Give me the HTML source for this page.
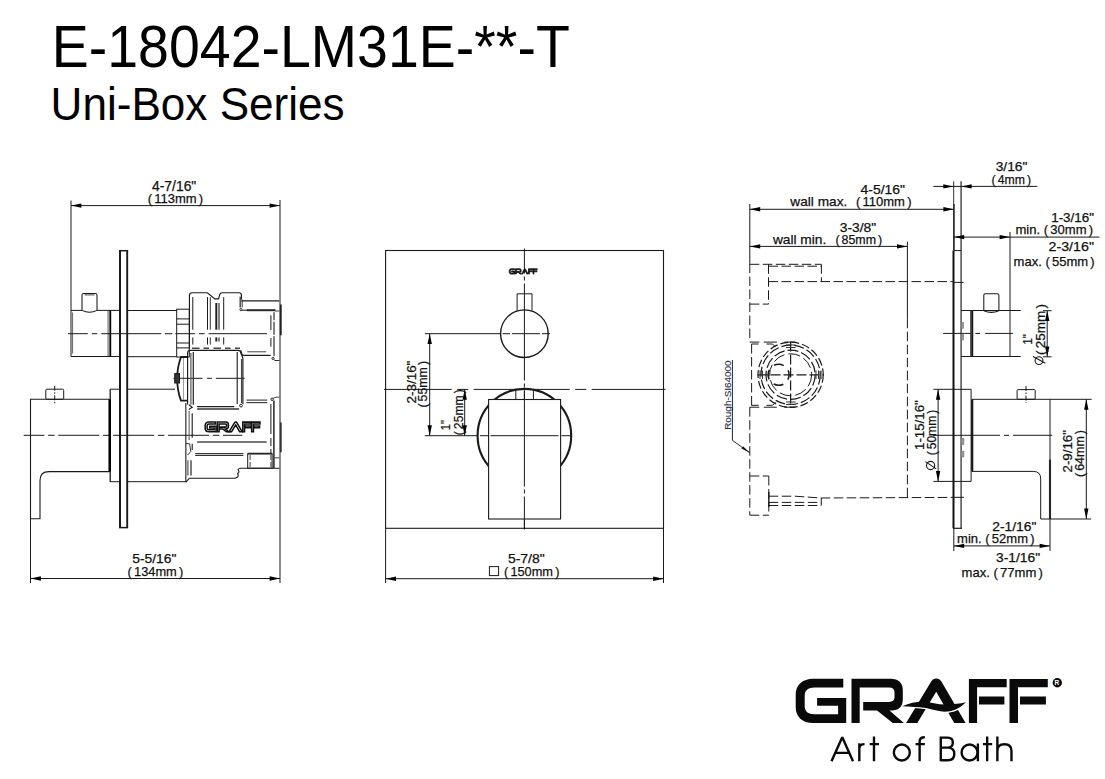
<!DOCTYPE html>
<html><head><meta charset="utf-8"><title>E-18042-LM31E-**-T</title>
<style>
html,body{margin:0;padding:0;background:#fff;}
body{width:1105px;height:779px;overflow:hidden;position:relative;}
svg{position:absolute;left:0;top:0;display:block;}
svg text{font-family:"Liberation Sans",sans-serif;}
</style></head><body>
<svg width="1105" height="779" viewBox="0 0 1105 779">

<rect x="0" y="0" width="1105" height="779" fill="#fff"/>
<text x="51.8" y="67.2" font-size="58.6" fill="#000" textLength="518" lengthAdjust="spacingAndGlyphs">E-18042-LM31E-**-T</text>
<text x="50.6" y="119.7" font-size="46.6" fill="#000" textLength="294" lengthAdjust="spacingAndGlyphs">Uni-Box Series</text>
<line x1="71" y1="200.5" x2="71" y2="356.7" stroke="#1a1a1a" stroke-width="1"/>
<line x1="280" y1="200" x2="280" y2="583" stroke="#1a1a1a" stroke-width="1"/>
<line x1="71" y1="205.6" x2="280" y2="205.6" stroke="#1a1a1a" stroke-width="1"/>
<polygon points="71,205.6 81.40,203.40 81.40,207.80" fill="#000"/>
<polygon points="280,205.6 269.60,203.40 269.60,207.80" fill="#000"/>
<text x="152" y="190.8" font-size="14.2" fill="#111" stroke="#111" stroke-width="0.25" textLength="44.3" lengthAdjust="spacingAndGlyphs">4-7/16&quot;</text>
<text x="147.7" y="202.9" font-size="13.2" fill="#111" stroke="#111" stroke-width="0.25" textLength="55.5" lengthAdjust="spacingAndGlyphs">(&#8202;&#8202;113mm&#8202;&#8202;)</text>
<line x1="30.5" y1="399.3" x2="30.5" y2="583" stroke="#1a1a1a" stroke-width="1"/>
<line x1="30.5" y1="578.5" x2="280" y2="578.5" stroke="#1a1a1a" stroke-width="1"/>
<polygon points="30.5,578.5 40.90,576.30 40.90,580.70" fill="#000"/>
<polygon points="280,578.5 269.60,576.30 269.60,580.70" fill="#000"/>
<text x="132.2" y="563.4" font-size="13.2" fill="#111" stroke="#111" stroke-width="0.25" textLength="44.2" lengthAdjust="spacingAndGlyphs">5-5/16&quot;</text>
<text x="127.6" y="575.7" font-size="13.6" fill="#111" stroke="#111" stroke-width="0.25" textLength="55.6" lengthAdjust="spacingAndGlyphs">(&#8202;&#8202;134mm&#8202;&#8202;)</text>
<line x1="120" y1="250.6" x2="120" y2="527.8" stroke="#1a1a1a" stroke-width="2"/>
<line x1="127.2" y1="250.6" x2="127.2" y2="527.8" stroke="#1a1a1a" stroke-width="1.9"/>
<line x1="119" y1="250.7" x2="128.1" y2="250.7" stroke="#1a1a1a" stroke-width="1.5"/>
<line x1="119" y1="527.6" x2="128.1" y2="527.6" stroke="#1a1a1a" stroke-width="1.5"/>
<line x1="71" y1="310.4" x2="82" y2="310.4" stroke="#1a1a1a" stroke-width="1"/>
<line x1="97" y1="310.4" x2="120" y2="310.4" stroke="#1a1a1a" stroke-width="1"/>
<line x1="71" y1="356.5" x2="120" y2="356.5" stroke="#1a1a1a" stroke-width="1"/>
<line x1="72.6" y1="312.5" x2="72.6" y2="353.5" stroke="#555" stroke-width="0.9"/>
<line x1="108.1" y1="310.5" x2="108.1" y2="356.5" stroke="#444" stroke-width="0.9"/>
<line x1="110.3" y1="310.5" x2="110.3" y2="356.5" stroke="#000" stroke-width="1.8"/>
<path d="M82,310.4 L82,295 Q82,293.5 83.5,293.5 L95.5,293.5 Q97,293.5 97,295 L97,310.4 Q89.5,314 82,310.4" stroke="#1a1a1a" stroke-width="1.05" fill="none"/>
<line x1="84.5" y1="294.9" x2="94.5" y2="294.9" stroke="#444" stroke-width="1"/>
<line x1="68" y1="333.7" x2="267" y2="333.7" stroke="#1a1a1a" stroke-width="1" stroke-dasharray="19.8 4 5.5 4 60 3.7 7.3 3"/>
<line x1="127.5" y1="310.5" x2="176.7" y2="310.5" stroke="#1a1a1a" stroke-width="1"/>
<line x1="127.5" y1="356.7" x2="176.7" y2="356.7" stroke="#1a1a1a" stroke-width="1"/>
<rect x="176.7" y="309.2" width="12.6" height="47.8" rx="0" stroke="#1a1a1a" stroke-width="1" fill="none"/>
<line x1="176.7" y1="318.9" x2="189.3" y2="318.9" stroke="#1a1a1a" stroke-width="1"/>
<line x1="176.7" y1="324.2" x2="189.3" y2="324.2" stroke="#1a1a1a" stroke-width="1"/>
<line x1="176.7" y1="343" x2="189.3" y2="343" stroke="#1a1a1a" stroke-width="1"/>
<line x1="176.7" y1="347.9" x2="189.3" y2="347.9" stroke="#1a1a1a" stroke-width="1"/>
<path d="M109.5,399.3 L30.5,399.3 L30.5,518.7 L40,518.7 L40,480.5 Q40,471.6 49,471.6 L109.5,471.6" stroke="#1a1a1a" stroke-width="1.1" fill="none"/>
<line x1="110.2" y1="389.2" x2="110.2" y2="481.7" stroke="#1a1a1a" stroke-width="1.3"/>
<line x1="109.7" y1="399.3" x2="109.7" y2="471.7" stroke="#000" stroke-width="2.5"/>
<line x1="110" y1="389.2" x2="120" y2="389.2" stroke="#1a1a1a" stroke-width="1"/>
<line x1="110" y1="481.7" x2="120" y2="481.7" stroke="#1a1a1a" stroke-width="1"/>
<line x1="127.5" y1="389.2" x2="175" y2="389.2" stroke="#1a1a1a" stroke-width="1"/>
<line x1="127.5" y1="481.7" x2="185.8" y2="481.7" stroke="#1a1a1a" stroke-width="1"/>
<rect x="45.8" y="389.2" width="17.9" height="10.1" rx="1" stroke="#1a1a1a" stroke-width="1" fill="none"/>
<line x1="54.7" y1="385.8" x2="54.7" y2="403.3" stroke="#1a1a1a" stroke-width="1" stroke-dasharray="5 1.5 1.5 1.5"/>
<line x1="23.7" y1="435.3" x2="242.3" y2="435.3" stroke="#1a1a1a" stroke-width="1" stroke-dasharray="41 3.7 6.5 3.7" stroke-dashoffset="20.3"/>
<path d="M187.6,357 L181,357 Q177,368 177.3,378.5 Q177,390 181,400.6 L187.6,400.6" stroke="#1a1a1a" stroke-width="1.8" fill="none"/>
<line x1="183.5" y1="358" x2="183.5" y2="400" stroke="#888" stroke-width="0.8"/>
<line x1="173.5" y1="378.3" x2="244.7" y2="378.3" stroke="#1a1a1a" stroke-width="1" stroke-dasharray="29 4.6 4.8 4 30 4"/>
<rect x="174.7" y="373.6" width="4.8" height="9.4" rx="0" stroke="#1a1a1a" stroke-width="1" fill="#333"/>
<path d="M189.45,349 L189.45,295.4 Q189.45,292.7 192.1,292.7 L207.4,292.7 L214.8,298.9 L218.6,298.9 L219.5,295.3 Q220,292.7 222.4,292.7 L239,292.7 Q241.4,292.7 241.4,295 L241.4,299.4" stroke="#1a1a1a" stroke-width="1.15" fill="none"/>
<line x1="240.2" y1="296.8" x2="240.2" y2="307.6" stroke="#333" stroke-width="1.3"/>
<line x1="242.2" y1="299.5" x2="242.2" y2="307.6" stroke="#555" stroke-width="1.2"/>
<circle cx="240.9" cy="309.6" r="1.1" stroke="#222" stroke-width="1" fill="none"/>
<line x1="241.4" y1="300.9" x2="279.3" y2="300.9" stroke="#1a1a1a" stroke-width="1.1"/>
<line x1="242" y1="310.2" x2="247" y2="310.2" stroke="#1a1a1a" stroke-width="1"/>
<line x1="246.8" y1="310.2" x2="275.5" y2="310.2" stroke="#262626" stroke-width="2"/>
<line x1="192.8" y1="297.1" x2="192.8" y2="329.7" stroke="#1a1a1a" stroke-width="1"/>
<line x1="192.8" y1="337.4" x2="192.8" y2="344.6" stroke="#1a1a1a" stroke-width="1"/>
<line x1="207.5" y1="297.1" x2="207.5" y2="329.7" stroke="#1a1a1a" stroke-width="1"/>
<line x1="207.5" y1="337.4" x2="207.5" y2="344.6" stroke="#1a1a1a" stroke-width="1"/>
<line x1="210.3" y1="297.1" x2="210.3" y2="329.7" stroke="#333" stroke-width="1"/>
<line x1="210.3" y1="337.4" x2="210.3" y2="344.6" stroke="#333" stroke-width="1"/>
<line x1="223.7" y1="297.1" x2="223.7" y2="329.7" stroke="#1a1a1a" stroke-width="1"/>
<line x1="223.7" y1="337.4" x2="223.7" y2="344.6" stroke="#1a1a1a" stroke-width="1"/>
<line x1="216.3" y1="303" x2="216.3" y2="329.7" stroke="#222" stroke-width="2"/>
<line x1="219" y1="303" x2="219" y2="329.7" stroke="#333" stroke-width="1.2"/>
<line x1="216.3" y1="337.4" x2="216.3" y2="341.5" stroke="#222" stroke-width="2"/>
<line x1="219" y1="337.4" x2="219" y2="341.5" stroke="#333" stroke-width="1.2"/>
<line x1="192" y1="348.2" x2="240" y2="348.2" stroke="#444" stroke-width="1.6" stroke-dasharray="7.5 4 5.5 4.5"/>
<line x1="270.9" y1="315.3" x2="270.9" y2="330.2" stroke="#1a1a1a" stroke-width="1"/>
<line x1="270.9" y1="338" x2="270.9" y2="346.6" stroke="#1a1a1a" stroke-width="1"/>
<line x1="274" y1="312.2" x2="274" y2="355.9" stroke="#1a1a1a" stroke-width="1.1" stroke-dasharray="8 1.5 13 1.5 30 1.5"/>
<line x1="275" y1="311" x2="279.5" y2="311" stroke="#444" stroke-width="1"/>
<line x1="280.8" y1="304.5" x2="280.8" y2="335.3" stroke="#222" stroke-width="1.8"/>
<circle cx="273" cy="358.4" r="1.1" stroke="#222" stroke-width="1" fill="none"/>
<path d="M240.6,350.2 L242.5,355.4 L270.6,355.4" stroke="#1a1a1a" stroke-width="1.1" fill="none"/>
<path d="M273.8,359.5 L275,360.5 L279.5,360.5" stroke="#333" stroke-width="1" fill="none"/>
<line x1="247.3" y1="351.8" x2="266.3" y2="351.8" stroke="#444" stroke-width="1"/>
<path d="M187.6,404.6 L187.6,353.2 Q187.6,350.4 190.4,350.4 L238,350.4 Q240.8,350.4 240.8,353.2 L242.9,358 L242.9,404" stroke="#1a1a1a" stroke-width="1.15" fill="none"/>
<line x1="193.3" y1="352" x2="193.3" y2="404.8" stroke="#333" stroke-width="1.3"/>
<line x1="190.9" y1="353" x2="190.9" y2="404.8" stroke="#555" stroke-width="1.2"/>
<line x1="237.2" y1="352" x2="237.2" y2="404" stroke="#1a1a1a" stroke-width="1.1"/>
<line x1="241.6" y1="359" x2="241.6" y2="403" stroke="#444" stroke-width="1.3"/>
<line x1="197.1" y1="406.6" x2="234.3" y2="406.6" stroke="#222" stroke-width="1.1"/>
<line x1="197.1" y1="409" x2="239.1" y2="409" stroke="#333" stroke-width="1.4"/>
<circle cx="241" cy="405.6" r="1.4" stroke="#222" stroke-width="1" fill="none"/>
<path d="M188.8,404.8 L192.2,407.2 L188.8,409.6" stroke="#222" stroke-width="1.2" fill="none"/>
<line x1="246.5" y1="400.1" x2="267.2" y2="400.1" stroke="#333" stroke-width="1.1"/>
<line x1="246.5" y1="402.6" x2="267.2" y2="402.6" stroke="#333" stroke-width="1.1"/>
<line x1="185.85" y1="403" x2="185.85" y2="482.2" stroke="#1a1a1a" stroke-width="1.1"/>
<path d="M185.85,482.2 L189.4,478.2 L234.9,478.2 Q239.6,477.2 237.6,473.4 Q240.2,472.6 238,469.6 Q238.6,468.2 241,468.2 L279.4,468.2" stroke="#1a1a1a" stroke-width="1.1" fill="none"/>
<rect x="247.7" y="453.7" width="24.4" height="14.5" rx="0" stroke="#1a1a1a" stroke-width="1" fill="none"/>
<line x1="247.7" y1="453.6" x2="272.1" y2="453.6" stroke="#222" stroke-width="1.7"/>
<line x1="250.1" y1="455" x2="250.1" y2="467.5" stroke="#444" stroke-width="1" stroke-dasharray="5 2"/>
<line x1="270.9" y1="455" x2="270.9" y2="467.5" stroke="#444" stroke-width="1" stroke-dasharray="5 2"/>
<line x1="270.9" y1="404" x2="270.9" y2="453" stroke="#1a1a1a" stroke-width="1" stroke-dasharray="30 4 8 3"/>
<line x1="273.9" y1="400.5" x2="273.9" y2="468.2" stroke="#222" stroke-width="1.5"/>
<circle cx="272.1" cy="399.3" r="1.2" stroke="#222" stroke-width="1" fill="none"/>
<path d="M273,398.4 L276,397.2 L279.4,397.2" stroke="#444" stroke-width="1" fill="none"/>
<line x1="273.9" y1="457.8" x2="279.4" y2="457.8" stroke="#444" stroke-width="1"/>
<line x1="280.8" y1="422.4" x2="280.8" y2="452.3" stroke="#333" stroke-width="1.8"/>
<line x1="192.2" y1="413.3" x2="192.2" y2="437.7" stroke="#1a1a1a" stroke-width="1.1"/>
<line x1="192.2" y1="443.8" x2="192.2" y2="449.9" stroke="#1a1a1a" stroke-width="1.1"/>
<line x1="189.1" y1="411" x2="189.1" y2="440" stroke="#555" stroke-width="1"/>
<line x1="197.1" y1="442" x2="266.6" y2="442" stroke="#4a4a4a" stroke-width="1.5"/>
<line x1="195.2" y1="453.5" x2="243.4" y2="453.5" stroke="#333" stroke-width="1.1"/>
<line x1="195.2" y1="455.4" x2="243.4" y2="455.4" stroke="#333" stroke-width="1.3"/>
<line x1="187.9" y1="460.2" x2="187.9" y2="475.5" stroke="#555" stroke-width="1.2"/>
<line x1="191" y1="460.2" x2="191" y2="475.5" stroke="#333" stroke-width="1.3"/>
<path d="M186,443.5 L189.6,443.8 L190.8,451.5 L187.6,455" stroke="#333" stroke-width="1" fill="none"/>
<g id="glogoL" transform="translate(205.2,422.2) scale(0.2175,0.218)" fill="none" stroke="#111" stroke-width="7"><path d="M47.3,-0.5 L17.5,-0.5 C6,-0.5 -0.3,6 -0.3,15.5 L-0.3,27.7 C-0.3,37.5 6,43.7 17.5,43.7 L50.2,43.7 L50.2,18.8 L21.1,18.8 L21.1,26.5 L42.1,26.5 L42.1,35 L18.5,35 C12,35 8.7,32 8.7,27 L8.7,16.5 C8.7,11 12,8.1 18.5,8.1 L47.3,8.1 Z"/>
<path d="M55.5,-0.5 L55.5,43.7 L63.7,43.7 L63.7,8.1 L93,8.1 Q98.5,8.1 98.5,13 L98.5,18 Q98.5,22.6 93,22.6 L67.2,22.6 L67.2,31.3 L81,31.3 L96.8,43.7 L107.9,43.7 L93.5,31.3 L95.5,31.3 Q106.8,30.8 106.8,20 L106.8,11.5 Q106.8,-0.5 94.5,-0.5 Z"/>
<path d="M110.1,43.7 L135.2,2.2 Q137,-0.9 140.3,-0.9 Q143.6,-0.9 145.4,2.2 L169.6,43.7 L158.2,43.7 L140.2,12.4 L121.3,43.7 Z"/>
<path d="M172.9,-0.4 L210.7,-0.4 L210.7,8 L181.1,8 L181.1,43.7 L172.9,43.7 Z M183,17.2 L208.4,17.2 L208.4,25.2 L183,25.2 Z"/>
<path d="M213.5,-0.4 L251.8,-0.4 L251.8,8 L222,8 L222,43.7 L213.5,43.7 Z M224,17.2 L249.9,17.2 L249.9,25.2 L224,25.2 Z"/>
</g>
<rect x="385.6" y="250.5" width="277.9" height="277.8" rx="0" stroke="#1a1a1a" stroke-width="1.1" fill="none"/>
<line x1="524.4" y1="248.5" x2="524.4" y2="529.3" stroke="#1a1a1a" stroke-width="1" stroke-dasharray="25 3 4 3 97 3 4 3 96 3 4 3 40 3"/>
<line x1="384" y1="389.4" x2="665.5" y2="389.4" stroke="#1a1a1a" stroke-width="1" stroke-dasharray="67.7 5.5 11 5.5 96 5.5 11 5.5 96 5.5"/>
<g transform="translate(509.3,268.8) scale(0.111,0.12)" fill="#111" stroke="#111" stroke-width="7"><path d="M47.3,-0.5 L17.5,-0.5 C6,-0.5 -0.3,6 -0.3,15.5 L-0.3,27.7 C-0.3,37.5 6,43.7 17.5,43.7 L50.2,43.7 L50.2,18.8 L21.1,18.8 L21.1,26.5 L42.1,26.5 L42.1,35 L18.5,35 C12,35 8.7,32 8.7,27 L8.7,16.5 C8.7,11 12,8.1 18.5,8.1 L47.3,8.1 Z"/>
<path d="M55.5,-0.5 L55.5,43.7 L63.7,43.7 L63.7,8.1 L93,8.1 Q98.5,8.1 98.5,13 L98.5,18 Q98.5,22.6 93,22.6 L67.2,22.6 L67.2,31.3 L81,31.3 L96.8,43.7 L107.9,43.7 L93.5,31.3 L95.5,31.3 Q106.8,30.8 106.8,20 L106.8,11.5 Q106.8,-0.5 94.5,-0.5 Z"/>
<path d="M110.1,43.7 L135.2,2.2 Q137,-0.9 140.3,-0.9 Q143.6,-0.9 145.4,2.2 L169.6,43.7 L158.2,43.7 L140.2,12.4 L121.3,43.7 Z"/>
<path d="M172.9,-0.4 L210.7,-0.4 L210.7,8 L181.1,8 L181.1,43.7 L172.9,43.7 Z M183,17.2 L208.4,17.2 L208.4,25.2 L183,25.2 Z"/>
<path d="M213.5,-0.4 L251.8,-0.4 L251.8,8 L222,8 L222,43.7 L213.5,43.7 Z M224,17.2 L249.9,17.2 L249.9,25.2 L224,25.2 Z"/>
</g>
<path d="M517.1,310.5 L517.1,293.8 L532,293.8 L532,310.5" stroke="#1a1a1a" stroke-width="1" fill="none"/>
<circle cx="524.4" cy="333.7" r="23.8" stroke="#1a1a1a" stroke-width="1.4" fill="none"/>
<line x1="424.8" y1="333.7" x2="500.6" y2="333.7" stroke="#1a1a1a" stroke-width="1"/>
<line x1="502.5" y1="333.7" x2="550" y2="333.7" stroke="#1a1a1a" stroke-width="1" stroke-dasharray="7.5 2 28 2 8 2"/>
<circle cx="524.4" cy="435.7" r="46.8" stroke="#1a1a1a" stroke-width="2.1" fill="none"/>
<rect x="488.6" y="399.5" width="72.0" height="119.5" rx="0" stroke="#1a1a1a" stroke-width="1.1" fill="#fff"/>
<line x1="515.8" y1="389.6" x2="515.8" y2="399.5" stroke="#1a1a1a" stroke-width="1"/>
<line x1="533.4" y1="389.6" x2="533.4" y2="399.5" stroke="#1a1a1a" stroke-width="1"/>
<line x1="524.4" y1="390.5" x2="524.4" y2="529.3" stroke="#1a1a1a" stroke-width="1" stroke-dasharray="96 3 4 3 40 3"/>
<line x1="424.8" y1="435.7" x2="477.6" y2="435.7" stroke="#1a1a1a" stroke-width="1"/>
<line x1="480" y1="435.7" x2="572" y2="435.7" stroke="#1a1a1a" stroke-width="1" stroke-dasharray="8.5 2 68 3 10.5 3"/>
<line x1="429.7" y1="333.7" x2="429.7" y2="435.7" stroke="#1a1a1a" stroke-width="1"/>
<polygon points="429.7,333.7 427.50,344.10 431.90,344.10" fill="#000"/>
<polygon points="429.7,435.7 427.50,425.30 431.90,425.30" fill="#000"/>
<line x1="464.7" y1="389.4" x2="464.7" y2="435.7" stroke="#1a1a1a" stroke-width="1"/>
<polygon points="464.7,389.4 462.50,399.80 466.90,399.80" fill="#000"/>
<polygon points="464.7,435.7 462.50,425.30 466.90,425.30" fill="#000"/>
<text transform="translate(416.2,403.5) rotate(-90)" font-size="13" fill="#111" stroke="#111" stroke-width="0.25" textLength="42.9" lengthAdjust="spacingAndGlyphs">2-3/16&quot;</text>
<text transform="translate(427.2,407.6) rotate(-90)" font-size="13" fill="#111" stroke="#111" stroke-width="0.25" textLength="46.7" lengthAdjust="spacingAndGlyphs">(&#8202;&#8202;55mm&#8202;&#8202;)</text>
<text transform="translate(450,430.2) rotate(-90)" font-size="13" fill="#111" stroke="#111" stroke-width="0.25" textLength="10.0" lengthAdjust="spacingAndGlyphs">1&quot;</text>
<text transform="translate(462.6,435.2) rotate(-90)" font-size="13" fill="#111" stroke="#111" stroke-width="0.25" textLength="45.9" lengthAdjust="spacingAndGlyphs">(&#8202;&#8202;25mm&#8202;&#8202;)</text>
<line x1="385.6" y1="528" x2="385.6" y2="583" stroke="#1a1a1a" stroke-width="1"/>
<line x1="663.5" y1="528" x2="663.5" y2="583" stroke="#1a1a1a" stroke-width="1"/>
<line x1="385.6" y1="578.7" x2="663.5" y2="578.7" stroke="#1a1a1a" stroke-width="1"/>
<polygon points="385.6,578.7 396.00,576.50 396.00,580.90" fill="#000"/>
<polygon points="663.5,578.7 653.10,576.50 653.10,580.90" fill="#000"/>
<text x="507.9" y="563.2" font-size="13.1" fill="#111" stroke="#111" stroke-width="0.25" textLength="36.8" lengthAdjust="spacingAndGlyphs">5-7/8&quot;</text>
<text x="504" y="575.7" font-size="13.6" fill="#111" stroke="#111" stroke-width="0.25" textLength="55.4" lengthAdjust="spacingAndGlyphs">(&#8202;&#8202;150mm&#8202;&#8202;)</text>
<rect x="489.4" y="566.6" width="9.2" height="9.0" rx="0" stroke="#1a1a1a" stroke-width="1" fill="none"/>
<line x1="953.7" y1="181.3" x2="953.7" y2="204.2" stroke="#333" stroke-width="1"/>
<line x1="953.9" y1="204" x2="953.9" y2="250.6" stroke="#1a1a1a" stroke-width="1.6"/>
<line x1="953.5" y1="250.6" x2="953.5" y2="528.3" stroke="#111" stroke-width="2.0"/>
<line x1="961.1" y1="181.3" x2="961.1" y2="528.3" stroke="#3a3a3a" stroke-width="1.35"/>
<line x1="953" y1="528.3" x2="962" y2="528.3" stroke="#1a1a1a" stroke-width="1.2"/>
<line x1="953.8" y1="250.6" x2="961.2" y2="250.6" stroke="#1a1a1a" stroke-width="1"/>
<line x1="933.3" y1="186.4" x2="961.2" y2="186.4" stroke="#1a1a1a" stroke-width="1"/>
<polygon points="953.7,186.4 943.30,184.20 943.30,188.60" fill="#000"/>
<line x1="961.2" y1="186.4" x2="1037.4" y2="186.4" stroke="#1a1a1a" stroke-width="1"/>
<polygon points="961.2,186.4 971.60,184.20 971.60,188.60" fill="#000"/>
<text x="995.7" y="171.4" font-size="13" fill="#111" stroke="#111" stroke-width="0.25" textLength="31.7" lengthAdjust="spacingAndGlyphs">3/16&quot;</text>
<text x="991.5" y="183.8" font-size="13" fill="#111" stroke="#111" stroke-width="0.25" textLength="39.5" lengthAdjust="spacingAndGlyphs">(&#8202;&#8202;4mm&#8202;&#8202;)</text>
<line x1="749.8" y1="204" x2="749.8" y2="263.5" stroke="#1a1a1a" stroke-width="1"/>
<line x1="749.8" y1="263.5" x2="749.8" y2="341.6" stroke="#1a1a1a" stroke-width="1" stroke-dasharray="9.5 3.5"/>
<line x1="749.8" y1="209.3" x2="953.8" y2="209.3" stroke="#1a1a1a" stroke-width="1"/>
<polygon points="749.8,209.3 760.20,207.10 760.20,211.50" fill="#000"/>
<polygon points="953.8,209.3 943.40,207.10 943.40,211.50" fill="#000"/>
<text x="860.5" y="194" font-size="12.8" fill="#111" stroke="#111" stroke-width="0.25" textLength="44.5" lengthAdjust="spacingAndGlyphs">4-5/16&quot;</text>
<text x="790.3" y="206.2" font-size="12.9" fill="#111" stroke="#111" stroke-width="0.25" textLength="57.0" lengthAdjust="spacingAndGlyphs">wall max.</text>
<text x="856" y="206.2" font-size="12.8" fill="#111" stroke="#111" stroke-width="0.25" textLength="55.5" lengthAdjust="spacingAndGlyphs">(&#8202;&#8202;110mm&#8202;&#8202;)</text>
<line x1="749.8" y1="246.4" x2="907.4" y2="246.4" stroke="#1a1a1a" stroke-width="1"/>
<polygon points="749.8,246.4 760.20,244.20 760.20,248.60" fill="#000"/>
<polygon points="907.4,246.4 897.00,244.20 897.00,248.60" fill="#000"/>
<line x1="907.4" y1="241.6" x2="907.4" y2="318.7" stroke="#1a1a1a" stroke-width="1"/>
<line x1="907.4" y1="318.7" x2="907.4" y2="497.5" stroke="#1a1a1a" stroke-width="1" stroke-dasharray="9.5 3.5"/>
<text x="839.7" y="231.6" font-size="12.8" fill="#111" stroke="#111" stroke-width="0.25" textLength="36.5" lengthAdjust="spacingAndGlyphs">3-3/8&quot;</text>
<text x="772.9" y="243.5" font-size="12.9" fill="#111" stroke="#111" stroke-width="0.25" textLength="53.4" lengthAdjust="spacingAndGlyphs">wall min.</text>
<text x="835.4" y="243.5" font-size="12.8" fill="#111" stroke="#111" stroke-width="0.25" textLength="46.8" lengthAdjust="spacingAndGlyphs">(&#8202;&#8202;85mm&#8202;&#8202;)</text>
<line x1="953.8" y1="237.1" x2="1099.5" y2="237.1" stroke="#1a1a1a" stroke-width="1"/>
<polygon points="953.8,237.1 964.20,234.90 964.20,239.30" fill="#000"/>
<polygon points="1010,237.1 999.60,234.90 999.60,239.30" fill="#000"/>
<line x1="1010" y1="232" x2="1010" y2="356.8" stroke="#1a1a1a" stroke-width="1"/>
<text x="1051.2" y="221.8" font-size="13" fill="#111" stroke="#111" stroke-width="0.25" textLength="42.8" lengthAdjust="spacingAndGlyphs">1-3/16&quot;</text>
<text x="1015.5" y="234.1" font-size="13" fill="#111" stroke="#111" stroke-width="0.25" textLength="77.6" lengthAdjust="spacingAndGlyphs">min. (&#8202;&#8202;30mm&#8202;&#8202;)</text>
<text x="1048.5" y="251" font-size="13" fill="#111" stroke="#111" stroke-width="0.25" textLength="45.5" lengthAdjust="spacingAndGlyphs">2-3/16&quot;</text>
<text x="1013.6" y="265.8" font-size="13" fill="#111" stroke="#111" stroke-width="0.25" textLength="81.1" lengthAdjust="spacingAndGlyphs">max. (&#8202;&#8202;55mm&#8202;&#8202;)</text>
<line x1="749.8" y1="264.3" x2="821.4" y2="264.3" stroke="#1a1a1a" stroke-width="1" stroke-dasharray="9.5 3.5"/>
<line x1="768.5" y1="266.2" x2="821.4" y2="266.2" stroke="#1a1a1a" stroke-width="1" stroke-dasharray="9.5 3.5"/>
<line x1="821.4" y1="264.3" x2="821.4" y2="281.6" stroke="#1a1a1a" stroke-width="1" stroke-dasharray="9.5 3.5"/>
<line x1="768.5" y1="264.3" x2="768.5" y2="304.1" stroke="#1a1a1a" stroke-width="1" stroke-dasharray="9.5 3.5"/>
<line x1="749.8" y1="304.1" x2="768.5" y2="304.1" stroke="#1a1a1a" stroke-width="1" stroke-dasharray="9.5 3.5"/>
<line x1="768.5" y1="281.6" x2="953.8" y2="281.6" stroke="#1a1a1a" stroke-width="1" stroke-dasharray="9.5 3.5"/>
<line x1="953.8" y1="282.4" x2="963.5" y2="282.4" stroke="#1a1a1a" stroke-width="1"/>
<line x1="749.8" y1="342.1" x2="795.5" y2="342.1" stroke="#1a1a1a" stroke-width="1" stroke-dasharray="9.5 4.5 13 7.5 11 3"/>
<line x1="751.6" y1="344" x2="751.6" y2="405.5" stroke="#1a1a1a" stroke-width="1" stroke-dasharray="9.5 3.5"/>
<line x1="751.6" y1="344" x2="758.6" y2="344" stroke="#1a1a1a" stroke-width="1"/>
<line x1="766.5" y1="344" x2="772.5" y2="344" stroke="#1a1a1a" stroke-width="1"/>
<line x1="772.5" y1="344" x2="775.5" y2="347" stroke="#1a1a1a" stroke-width="1"/>
<line x1="751.6" y1="405.3" x2="758.6" y2="405.3" stroke="#1a1a1a" stroke-width="1"/>
<line x1="766.5" y1="405.3" x2="772.5" y2="405.3" stroke="#1a1a1a" stroke-width="1"/>
<line x1="772.5" y1="405.3" x2="775.5" y2="402.3" stroke="#1a1a1a" stroke-width="1"/>
<line x1="749.8" y1="407.2" x2="795.5" y2="407.2" stroke="#1a1a1a" stroke-width="1" stroke-dasharray="9.5 4.5 13 7.5 11 3"/>
<line x1="749.8" y1="407.2" x2="749.8" y2="515.2" stroke="#1a1a1a" stroke-width="1" stroke-dasharray="9.5 3.5"/>
<line x1="749.8" y1="476" x2="768.8" y2="476" stroke="#1a1a1a" stroke-width="1" stroke-dasharray="9.5 3.5"/>
<line x1="768.8" y1="476" x2="768.8" y2="515.2" stroke="#1a1a1a" stroke-width="1" stroke-dasharray="9.5 3.5"/>
<line x1="749.8" y1="515.2" x2="768.8" y2="515.2" stroke="#1a1a1a" stroke-width="1" stroke-dasharray="9.5 3.5"/>
<path d="M768.8,496.2 L795,496.2 L821,498 L953.8,497.4" stroke="#1a1a1a" stroke-width="1" fill="none" stroke-dasharray="9.5 3.5"/>
<line x1="768.8" y1="502.4" x2="821" y2="502.4" stroke="#1a1a1a" stroke-width="1" stroke-dasharray="9.5 3.5"/>
<line x1="768.8" y1="505.5" x2="821" y2="505.5" stroke="#1a1a1a" stroke-width="1" stroke-dasharray="9.5 3.5"/>
<line x1="821.3" y1="498" x2="821.3" y2="505.5" stroke="#1a1a1a" stroke-width="1"/>
<line x1="768.8" y1="492" x2="768.8" y2="507" stroke="#1a1a1a" stroke-width="1.4"/>
<line x1="953.8" y1="497.3" x2="964" y2="497.3" stroke="#1a1a1a" stroke-width="1"/>
<circle cx="790.6" cy="374.8" r="32.6" stroke="#1a1a1a" stroke-width="1.2" fill="none" stroke-dasharray="8 3"/>
<circle cx="790.6" cy="374.8" r="29.6" stroke="#1a1a1a" stroke-width="1.2" fill="none" stroke-dasharray="10 3"/>
<circle cx="790.6" cy="374.8" r="24.6" stroke="#1a1a1a" stroke-width="1.2" fill="none" stroke-dasharray="11 3"/>
<circle cx="790.6" cy="374.8" r="21" stroke="#1a1a1a" stroke-width="1" fill="none" stroke-dasharray="12 4"/>
<circle cx="778.6" cy="374.8" r="10.5" fill="none" stroke="#1a1a1a" stroke-width="1.6" stroke-dasharray="10 6.49" stroke-dashoffset="5"/>
<line x1="757.5" y1="374.8" x2="824" y2="374.8" stroke="#1a1a1a" stroke-width="1.2" stroke-dasharray="10 3"/>
<line x1="790.6" y1="341.5" x2="790.6" y2="408" stroke="#1a1a1a" stroke-width="1.2" stroke-dasharray="10 3"/>
<line x1="760" y1="370.5" x2="760" y2="379" stroke="#333" stroke-width="1"/>
<line x1="762.5" y1="370.5" x2="762.5" y2="379" stroke="#333" stroke-width="1"/>
<line x1="816" y1="370.5" x2="816" y2="379" stroke="#333" stroke-width="1"/>
<line x1="818.5" y1="370.5" x2="818.5" y2="379" stroke="#333" stroke-width="1"/>
<line x1="821" y1="370.5" x2="821" y2="379" stroke="#333" stroke-width="1"/>
<line x1="786" y1="345" x2="795.5" y2="345" stroke="#333" stroke-width="1"/>
<line x1="786" y1="347.5" x2="795.5" y2="347.5" stroke="#333" stroke-width="1"/>
<line x1="786" y1="402" x2="795.5" y2="402" stroke="#333" stroke-width="1"/>
<line x1="786" y1="404.5" x2="795.5" y2="404.5" stroke="#333" stroke-width="1"/>
<line x1="732.4" y1="360" x2="732.4" y2="440.3" stroke="#223" stroke-width="1"/>
<line x1="732.4" y1="440.3" x2="749.8" y2="452.8" stroke="#223" stroke-width="1"/>
<polygon points="749.8,452.8 743,446.2 741.5,448.6" fill="#111"/>
<text transform="translate(730.6,429.8) rotate(-90)" font-size="9.3" fill="#283050" stroke="#283050" stroke-width="0.12" textLength="69.4" lengthAdjust="spacingAndGlyphs">Rough-SI64000</text>
<line x1="961.2" y1="310.5" x2="1020.7" y2="310.5" stroke="#1a1a1a" stroke-width="1"/>
<line x1="961.2" y1="356.5" x2="1020.7" y2="356.5" stroke="#1a1a1a" stroke-width="1"/>
<line x1="970.5" y1="310.7" x2="970.5" y2="356.6" stroke="#444" stroke-width="0.9"/>
<line x1="972.2" y1="310.7" x2="972.2" y2="356.4" stroke="#1a1a1a" stroke-width="2.1"/>
<path d="M983.8,310.7 L983.8,295.3 Q983.8,293.8 985.3,293.8 L997.4,293.8 Q998.9,293.8 998.9,295.3 L998.9,310.7 Q991.3,314 983.8,310.7" stroke="#1a1a1a" stroke-width="1.05" fill="none"/>
<line x1="943.1" y1="333.4" x2="1012.9" y2="333.4" stroke="#1a1a1a" stroke-width="1" stroke-dasharray="27.4 4.9 4.7 5.1 27.7 3"/>
<rect x="961.2" y="322.3" width="2.4" height="6.0" rx="0" stroke="#777" stroke-width="0.6" fill="#999"/>
<rect x="961.2" y="334.1" width="2.4" height="5.9" rx="0" stroke="#777" stroke-width="0.6" fill="#999"/>
<line x1="1047.2" y1="310.7" x2="1047.2" y2="356.8" stroke="#1a1a1a" stroke-width="1"/>
<polygon points="1047.2,310.7 1045.00,321.10 1049.40,321.10" fill="#000"/>
<polygon points="1047.2,356.8 1045.00,346.40 1049.40,346.40" fill="#000"/>
<line x1="1043" y1="310.7" x2="1051.6" y2="310.7" stroke="#1a1a1a" stroke-width="1"/>
<line x1="1043" y1="356.8" x2="1051.6" y2="356.8" stroke="#1a1a1a" stroke-width="1"/>
<text transform="translate(1032.3,344.6) rotate(-90)" font-size="13.2" fill="#111" stroke="#111" stroke-width="0.25" textLength="10.2" lengthAdjust="spacingAndGlyphs">1&quot;</text>
<text transform="translate(1044.5,354.9) rotate(-90)" font-size="13.4" fill="#111" stroke="#111" stroke-width="0.25" textLength="50.8" lengthAdjust="spacingAndGlyphs">(&#8202;&#8202;25mm&#8202;&#8202;)</text>
<circle cx="1039" cy="360.6" r="3.9" stroke="#1a1a1a" stroke-width="1.1" fill="none"/>
<line x1="1033" y1="356.6" x2="1045.4" y2="363.3" stroke="#1a1a1a" stroke-width="1.1"/>
<line x1="933.4" y1="389.3" x2="971.1" y2="389.3" stroke="#1a1a1a" stroke-width="1"/>
<line x1="933.4" y1="481.4" x2="971.1" y2="481.4" stroke="#1a1a1a" stroke-width="1"/>
<line x1="971.1" y1="389.3" x2="971.1" y2="481.4" stroke="#1a1a1a" stroke-width="1"/>
<line x1="972.2" y1="399.3" x2="972.2" y2="471.4" stroke="#1a1a1a" stroke-width="2.2"/>
<line x1="972" y1="399.3" x2="1091.6" y2="399.3" stroke="#1a1a1a" stroke-width="1"/>
<line x1="1050" y1="399.3" x2="1050" y2="551" stroke="#1a1a1a" stroke-width="1"/>
<line x1="1050" y1="459.6" x2="1050" y2="519" stroke="#262626" stroke-width="2.1"/>
<path d="M972,471.4 L1033.4,471.4 Q1040.7,471.4 1040.7,478.8 L1040.7,519 L1091.2,519" stroke="#1a1a1a" stroke-width="1" fill="none"/>
<rect x="1017.1" y="389.6" width="18.1" height="9.7" rx="1" stroke="#1a1a1a" stroke-width="1" fill="none"/>
<line x1="1026" y1="386" x2="1026" y2="402.6" stroke="#1a1a1a" stroke-width="1" stroke-dasharray="5 1.5 1.5 1.5"/>
<line x1="933" y1="435.3" x2="1052.3" y2="435.3" stroke="#1a1a1a" stroke-width="1" stroke-dasharray="67 4 5 4 50 4"/>
<rect x="961.2" y="438.3" width="2.7" height="6.2" rx="0" stroke="#777" stroke-width="0.6" fill="#999"/>
<rect x="961.2" y="451.2" width="2.7" height="5.8" rx="0" stroke="#777" stroke-width="0.6" fill="#999"/>
<line x1="938.1" y1="389.3" x2="938.1" y2="481.4" stroke="#1a1a1a" stroke-width="1"/>
<polygon points="938.1,389.3 935.90,399.70 940.30,399.70" fill="#000"/>
<polygon points="938.1,481.4 935.90,471.00 940.30,471.00" fill="#000"/>
<text transform="translate(924.2,450) rotate(-90)" font-size="13.4" fill="#111" stroke="#111" stroke-width="0.25" textLength="49.8" lengthAdjust="spacingAndGlyphs">1-15/16&quot;</text>
<text transform="translate(935.6,455.3) rotate(-90)" font-size="13.4" fill="#111" stroke="#111" stroke-width="0.25" textLength="45.5" lengthAdjust="spacingAndGlyphs">(&#8202;&#8202;50mm&#8202;&#8202;)</text>
<circle cx="930.6" cy="465.5" r="4.1" stroke="#1a1a1a" stroke-width="1.1" fill="none"/>
<line x1="925.4" y1="461.6" x2="936.2" y2="468.9" stroke="#1a1a1a" stroke-width="1.1"/>
<line x1="1086.3" y1="399.3" x2="1086.3" y2="519" stroke="#1a1a1a" stroke-width="1"/>
<polygon points="1086.3,399.3 1084.10,409.70 1088.50,409.70" fill="#000"/>
<polygon points="1086.3,519 1084.10,508.60 1088.50,508.60" fill="#000"/>
<text transform="translate(1071.5,472.5) rotate(-90)" font-size="13" fill="#111" stroke="#111" stroke-width="0.25" textLength="42.5" lengthAdjust="spacingAndGlyphs">2-9/16&quot;</text>
<text transform="translate(1083.7,477.1) rotate(-90)" font-size="13" fill="#111" stroke="#111" stroke-width="0.25" textLength="47.1" lengthAdjust="spacingAndGlyphs">(&#8202;&#8202;64mm&#8202;&#8202;)</text>
<line x1="953.8" y1="528.3" x2="953.8" y2="551" stroke="#1a1a1a" stroke-width="1"/>
<line x1="953.8" y1="545.9" x2="1050" y2="545.9" stroke="#1a1a1a" stroke-width="1"/>
<polygon points="953.8,545.9 964.20,543.70 964.20,548.10" fill="#000"/>
<polygon points="1050,545.9 1039.60,543.70 1039.60,548.10" fill="#000"/>
<text x="992.2" y="531.4" font-size="13" fill="#111" stroke="#111" stroke-width="0.25" textLength="44.2" lengthAdjust="spacingAndGlyphs">2-1/16&quot;</text>
<text x="957.1" y="542.9" font-size="13" fill="#111" stroke="#111" stroke-width="0.25" textLength="77.4" lengthAdjust="spacingAndGlyphs">min. (&#8202;&#8202;52mm&#8202;&#8202;)</text>
<text x="996.1" y="561.7" font-size="13" fill="#111" stroke="#111" stroke-width="0.25" textLength="44.0" lengthAdjust="spacingAndGlyphs">3-1/16&quot;</text>
<text x="961.6" y="576.9" font-size="13" fill="#111" stroke="#111" stroke-width="0.25" textLength="81.3" lengthAdjust="spacingAndGlyphs">max. (&#8202;&#8202;77mm&#8202;&#8202;)</text>
<g transform="translate(796,679.3) scale(1,1)" fill="#0a0a0a"><path d="M47.3,-0.5 L17.5,-0.5 C6,-0.5 -0.3,6 -0.3,15.5 L-0.3,27.7 C-0.3,37.5 6,43.7 17.5,43.7 L50.2,43.7 L50.2,18.8 L21.1,18.8 L21.1,26.5 L42.1,26.5 L42.1,35 L18.5,35 C12,35 8.7,32 8.7,27 L8.7,16.5 C8.7,11 12,8.1 18.5,8.1 L47.3,8.1 Z"/>
<path d="M55.5,-0.5 L55.5,43.7 L63.7,43.7 L63.7,8.1 L93,8.1 Q98.5,8.1 98.5,13 L98.5,18 Q98.5,22.6 93,22.6 L67.2,22.6 L67.2,31.3 L81,31.3 L96.8,43.7 L107.9,43.7 L93.5,31.3 L95.5,31.3 Q106.8,30.8 106.8,20 L106.8,11.5 Q106.8,-0.5 94.5,-0.5 Z"/>
<path d="M110.1,43.7 L135.2,2.2 Q137,-0.9 140.3,-0.9 Q143.6,-0.9 145.4,2.2 L169.6,43.7 L158.2,43.7 L140.2,12.4 L121.3,43.7 Z"/>
<path d="M105.6,28.2 C114,24.6 121,23.2 127.5,23.4 C136,23.8 142,26.6 150,26.4 C158,26.2 164,24.6 170.4,23.6 L170.4,25 C166,29 160,32.6 152,33.6 C144,34.4 138,31.6 130,30 C122,28.6 114,28.6 105.6,28.2 Z" fill="#fff"/><path d="M106.1,27.0 C114,23.4 121,22.2 126.8,22.4 C135,22.8 142,25.4 150,25.2 C158,25 164,24.2 169.8,22.9 C166,27 160,31.2 152,32.2 C144,33 138,30.4 130,28.8 C122,27.6 114,27.6 106.1,27.0 Z"/>
<path d="M172.9,-0.4 L210.7,-0.4 L210.7,8 L181.1,8 L181.1,43.7 L172.9,43.7 Z M183,17.2 L208.4,17.2 L208.4,25.2 L183,25.2 Z"/>
<path d="M213.5,-0.4 L251.8,-0.4 L251.8,8 L222,8 L222,43.7 L213.5,43.7 Z M224,17.2 L249.9,17.2 L249.9,25.2 L224,25.2 Z"/>
<circle cx="261.3" cy="3.4" r="4.7"/>
<text x="258.6" y="5.6" font-size="6.5" font-weight="bold" fill="#fff">R</text>
</g>
<path d="M831.5,761.18 L842.26,737.24 L853.02,761.18 M835.96,752.83 L848.57,752.83" fill="none" stroke="#0a0a0a" stroke-width="2.4" stroke-linejoin="bevel"/>
<circle cx="901.82" cy="752.46" r="7.98" fill="none" stroke="#0a0a0a" stroke-width="2.4"/>
<circle cx="969.54" cy="752.46" r="7.98" fill="none" stroke="#0a0a0a" stroke-width="2.4"/>
<path d="M859.33,743.18 L859.33,761.18 M859.33,748.19 Q859.7,744.11 864.53,744.11 M873.99,736.5 L873.99,761.18 M869.72,744.11 L879.0,744.11 M919.63,761.18 L919.63,741.33 Q919.63,737.24 924.82,737.24 M915.55,744.11 L924.82,744.11 M940.78,761.18 L940.78,737.62 L947.64,737.62 Q952.84,737.62 952.84,742.44 Q952.84,747.63 947.64,747.63 L940.78,747.63 M947.64,747.63 Q954.32,747.63 954.32,753.94 Q954.32,760.25 947.64,760.25 L940.78,760.25 M977.88,743.55 L977.88,761.18 M987.16,736.5 L987.16,761.18 M982.89,744.11 L992.17,744.11 M997.37,736.5 L997.37,761.18 M997.37,750.97 Q997.37,744.29 1004.42,744.29 Q1011.47,744.29 1011.47,750.97 L1011.47,761.18" fill="none" stroke="#0a0a0a" stroke-width="2.4" stroke-linejoin="miter"/>
</svg>
</body></html>
